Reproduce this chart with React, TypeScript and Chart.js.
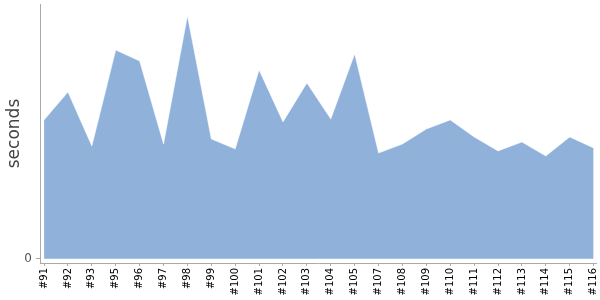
import React, { useEffect, useRef } from "react";
import { Chart, registerables } from "chart.js";
Chart.register(...registerables);

const builds = ["#91","#92","#93","#95","#96","#97","#98","#99","#100","#101","#102","#103","#104","#105","#107","#108","#109","#110","#111","#112","#113","#114","#115","#116"];
const seconds = [545,654,442,819,776,450,953,470,431,741,537,690,548,804,415,450,509,545,478,423,458,403,478,435];
const yTickValues = [0];

export default function App() {
  const ref = useRef<HTMLCanvasElement>(null);
  useEffect(() => {
    document.body.style.margin = "0";
    const ctx = ref.current!;
    const chart = new Chart(ctx, {
      type: "line",
      data: {
        datasets: [{
          data: seconds.map((v, i) => ({ x: i, y: v })),
          fill: "origin",
          backgroundColor: "#8fb1da",
          borderColor: "rgba(255,255,255,0.5)",
          borderWidth: 1,
          pointRadius: 0,
          tension: 0,
        }],
      },
      options: {
        animation: false,
        responsive: false,
        layout: { padding: { top: 4, right: 4, left: 0, bottom: 0 } },
        plugins: { legend: { display: false }, tooltip: { enabled: false } },
        scales: {
          x: {
            type: "linear",
            min: -0.17,
            max: 23.1,
            afterBuildTicks: (s: any) => { s.ticks = builds.map((_, i) => ({ value: i })); },
            afterFit: (s: any) => { s.height = 37; s.paddingLeft = 0; s.paddingRight = 0; },
            ticks: {
              autoSkip: false,
              maxRotation: 90,
              minRotation: 90,
              color: "#000",
              font: { family: "DejaVu Sans", size: 10 },
              padding: 2,
              callback: (v: any) => builds[v as number] ?? "",
            },
            grid: { display: true, drawOnChartArea: false, drawTicks: true, tickLength: 3, color: "#aaa" },
            border: { display: true, color: "#aaa" },
          },
          y: {
            min: -17,
            max: 1000,
            afterBuildTicks: (s: any) => { s.ticks = yTickValues.map((v) => ({ value: v })); },
            afterFit: (s: any) => { s.width = 40; s.paddingTop = 0; s.paddingBottom = 0; },
            ticks: {
              color: "#555",
              font: { family: "DejaVu Sans", size: 12 },
              padding: 4,
              callback: (v: any) => String(v),
            },
            title: {
              display: true,
              text: "seconds",
              color: "#444",
              font: { family: "DejaVu Sans", size: 17 },
              padding: { top: 4, bottom: 0 },
            },
            grid: { display: true, drawOnChartArea: false, drawTicks: true, tickLength: 4, color: "#aaa" },
            border: { display: true, color: "#aaa" },
          },
        },
      },
    });
    return () => chart.destroy();
  }, []);
  return <canvas ref={ref} width={600} height={300} style={{ display: "block" }} />;
}
